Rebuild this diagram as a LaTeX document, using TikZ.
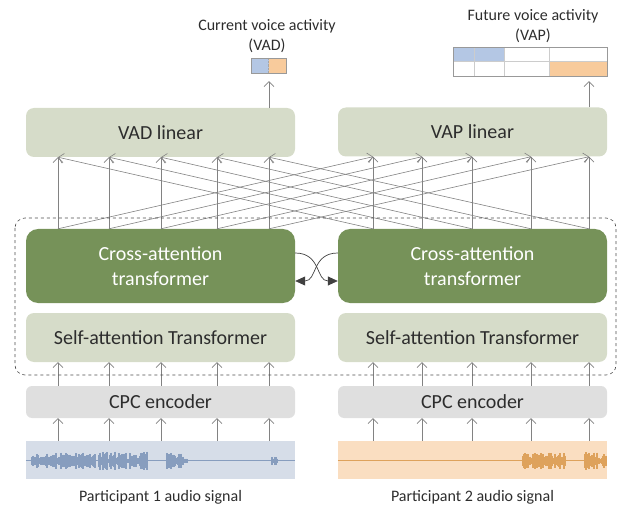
\documentclass[tikz,border=0pt]{standalone}
\usepackage{fontspec}
\setmainfont{Carlito}
\usetikzlibrary{arrows.meta,calc,positioning}

\definecolor{boxgreen}{RGB}{214,220,201}
\definecolor{darkgreen}{RGB}{118,146,89}
\definecolor{cpcgray}{RGB}{223,223,223}
\definecolor{wavebluebg}{RGB}{214,221,232}
\definecolor{waveblue}{RGB}{135,157,190}
\definecolor{waveorangebg}{RGB}{250,222,193}
\definecolor{waveorange}{RGB}{222,162,92}
\definecolor{vadblue}{RGB}{180,199,228}
\definecolor{vadorange}{RGB}{248,203,156}
\definecolor{txt}{RGB}{45,45,45}
\definecolor{linegray}{RGB}{130,130,130}

\begin{document}
\begin{tikzpicture}[x=1pt,y=-1pt,
                    >={Straight Barb[length=5pt,width=10pt]},   % open arrow heads
                    every node/.style={font=\fontsize{16}{20}\selectfont,text=txt},
                    layerbox/.style={rounded corners=8pt,minimum width=269pt,
                                     minimum height=49pt,inner sep=0pt,
                                     font=\fontsize{20}{25}\selectfont},
                    link/.style={->,linegray,line width=0.6pt},
                    swap/.style={-{Triangle[length=10pt,width=9pt]},black!75,line width=0.7pt}]

\useasboundingbox (0,0) rectangle (619,508);

% ---------------------------------------------------------------
% Layers of the two streams
\node[layerbox,fill=boxgreen] (vadlin) at (160.5,132.5) {VAD linear};
\node[layerbox,fill=boxgreen] (vaplin) at (472.5,132) {VAP linear};

\node[layerbox,fill=darkgreen,minimum height=74pt,rounded corners=12pt,
      text=white,align=center] (crossL) at (160.5,266) {Cross-attention\\transformer};
\node[layerbox,fill=darkgreen,minimum height=74pt,rounded corners=12pt,
      text=white,align=center] (crossR) at (472.5,266) {Cross-attention\\transformer};

\node[layerbox,fill=boxgreen] (selfL) at (160.5,337.5) {Self-attention Transformer};
\node[layerbox,fill=boxgreen] (selfR) at (472.5,337.5) {Self-attention Transformer};

\node[layerbox,fill=cpcgray,minimum height=32pt,rounded corners=6pt] (cpcL) at (160.5,402) {CPC encoder};
\node[layerbox,fill=cpcgray,minimum height=32pt,rounded corners=6pt] (cpcR) at (472.5,402) {CPC encoder};

% audio strips
\node[minimum width=269pt,minimum height=38pt,inner sep=0pt,fill=wavebluebg] (waveL) at (160.5,460) {};
\node[minimum width=269pt,minimum height=38pt,inner sep=0pt,fill=waveorangebg] (waveR) at (472.5,460) {};

\node (labL) at (160.5,497) {Participant 1 audio signal};
\node (labR) at (472.5,497) {Participant 2 audio signal};

% ---------------------------------------------------------------
% Waveforms (seeded, so always the same)
\pgfmathsetseed{4242}
\draw[waveblue,line width=0.7pt] (waveL.west) -- (waveL.east);
\foreach \xa/\xb/\amp in {32/95/7,99/147/8,167/187/7,272/277/3}{
  \foreach \x in {\xa,...,\xb}{
    \pgfmathsetmacro\h{1.5+\amp*rnd}
    \draw[waveblue,line width=1.1pt] (\x,461-\h) -- (\x,461+\h);
  }
}
\draw[waveorange,line width=0.7pt] (waveR.west) -- (waveR.east);
\foreach \xa/\xb/\amp in {523/565/7,585/606/8}{
  \foreach \x in {\xa,...,\xb}{
    \pgfmathsetmacro\h{1.5+\amp*rnd}
    \draw[waveorange,line width=1.1pt] (\x,461-\h) -- (\x,461+\h);
  }
}

% ---------------------------------------------------------------
% Outputs
\fill[vadblue]   (251,58) rectangle (268.5,73);
\fill[vadorange] (268.5,58) rectangle (286,73);
\draw[gray!70,densely dotted] (268.5,58) -- (268.5,73);
\node[draw=gray!80,minimum width=35pt,minimum height=15pt,inner sep=0pt] (vad) at (268.5,65.5) {};
\node[align=center] (vadtxt) at (267,36) {Current voice activity\\(VAD)};

\fill[vadblue]   (453,47) rectangle (504,61.5);
\fill[vadorange] (549,61.5) rectangle (607,76);
\draw[gray!40] (453,61.5) -- (607,61.5);
\foreach \xc in {474,504,549}
  \draw[gray!40] (\xc,47) -- (\xc,76);
\node[draw=gray!80,minimum width=154pt,minimum height=29pt,inner sep=0pt] (vap) at (530,61.5) {};
\node[align=center] (vaptxt) at (533,26) {Future voice activity\\(VAP)};

% ---------------------------------------------------------------
% Column positions of the arrows
\foreach \i/\xl/\xr in {1/58/373,2/109/422,3/161/472,4/217/531,5/269/589}{
  \coordinate (pL\i) at (\xl,0);
  \coordinate (pR\i) at (\xr,0);
}

\foreach \i in {1,...,5}{
  \draw[link] (pL\i |- waveL.north) -- (pL\i |- cpcL.south);
  \draw[link] (pR\i |- waveR.north) -- (pR\i |- cpcR.south);
  \draw[link] (pL\i |- cpcL.north) -- (pL\i |- selfL.south);
  \draw[link] (pR\i |- cpcR.north) -- (pR\i |- selfR.south);
  \draw[link] (pL\i |- crossL.north) -- (pL\i |- vadlin.south);
  \draw[link] (pR\i |- crossR.north) -- (pR\i |- vaplin.south);
  \draw[link] (pR\i |- crossR.north) -- (pL\i |- vadlin.south);
  \draw[link] (pL\i |- crossL.north) -- (pR\i |- vaplin.south);
}

\draw[link,shorten >=8pt] (pL5 |- vadlin.north) -- (pL5 |- vad.south);
\draw[link,shorten >=5pt] (pR5 |- vaplin.north) -- (pR5 |- vap.south);

% Exchange between the two cross-attention blocks
\draw[swap] ($(crossL.east)+(0,-13)$) .. controls +(26,0) and +(-22,0) .. ($(crossR.west)+(0,15)$);
\draw[swap] ($(crossR.west)+(0,-13)$) .. controls +(-26,0) and +(22,0) .. ($(crossL.east)+(0,15)$);

% Dashed frame round the shared transformer part
\draw[dashed,black!70,rounded corners=10pt,line width=0.6pt] (15,218) rectangle (616,375);

\end{tikzpicture}
\end{document}
